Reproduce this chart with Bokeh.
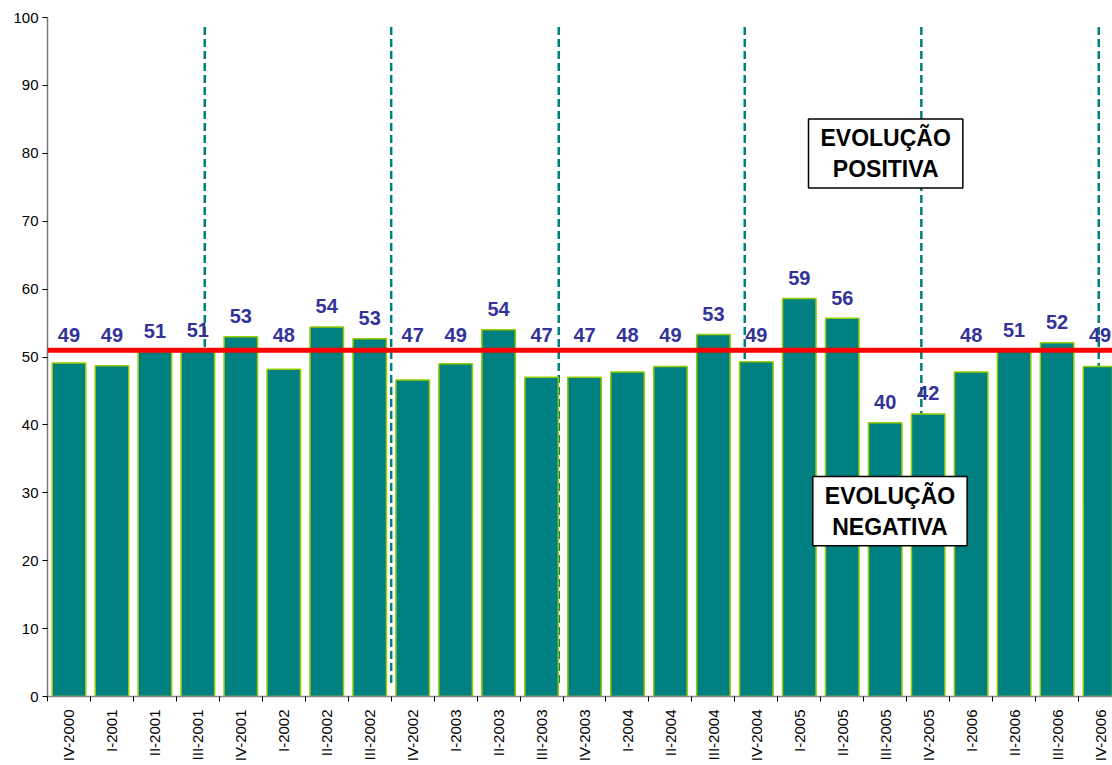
import math
import numpy as np
from bokeh.plotting import figure
from bokeh.models import (ColumnDataSource, Range1d, FixedTicker, Span, Label)
from bokeh.core.properties import value
from bokeh.embed import file_html
from bokeh.resources import INLINE

# ---- data ----
quarters = ["IV-2000", "I-2001", "II-2001", "III-2001", "IV-2001", "I-2002",
            "II-2002", "III-2002", "IV-2002", "I-2003", "II-2003", "III-2003",
            "IV-2003", "I-2004", "II-2004", "III-2004", "IV-2004", "I-2005",
            "II-2005", "III-2005", "IV-2005", "I-2006", "II-2006", "III-2006",
            "IV-2006"]
values = [49.1, 48.7, 50.8, 51.0, 53.0, 48.2, 54.4, 52.7, 46.6, 49.0, 54.0, 47.0,
          47.0, 47.8, 48.6, 53.3, 49.3, 58.6, 55.7, 40.3, 41.6, 47.8, 50.9, 52.1,
          48.6]
threshold = 51.0
year_marks = [3.66, 8.0, 11.9, 16.23, 20.34, 24.47]  # dashed separators (category units)
y_ticks = list(range(0, 101, 10))
text_pos = "EVOLUÇÃO\nPOSITIVA"
text_neg = "EVOLUÇÃO\nNEGATIVA"

FONT = "Liberation Sans"
TEAL = "#008080"

n = len(quarters)
centers = [i + 0.5 for i in range(n)]
bounds = list(range(n + 1))
vals = np.array(values)
label_y = np.where((vals >= 50.5) | (vals < 44), vals + 3.05, 53.3)
labels = ["%d" % int(round(v)) for v in values]

src = ColumnDataSource(dict(x=centers, top=values, ly=label_y, lab=labels))

p = figure(width=1112, height=765, output_backend="svg", toolbar_location=None,
           x_range=Range1d(0, 24.79), y_range=Range1d(0, 100),
           min_border_left=47, min_border_right=0, min_border_top=17,
           min_border_bottom=69)
p.outline_line_color = None
p.xgrid.visible = False
p.ygrid.visible = False
p.background_fill_color = "white"

# dashed separators (behind bars)
p.segment(x0=year_marks, x1=year_marks, y0=[2] * len(year_marks), y1=[99] * len(year_marks),
          line_color=TEAL, line_width=2.5, line_dash="8 4")

p.vbar(x="x", top="top", width=0.78, bottom=0, source=src,
       fill_color=TEAL, line_color="#99CC00", line_width=1.5)

p.add_layout(Span(location=threshold, dimension="width", line_color="#FF0000",
                  line_width=5))

p.text(x="x", y="ly", text="lab", source=src, text_align="center",
       text_baseline="middle", text_font=value(FONT), text_font_style="bold",
       text_font_size="20px", text_color="#333399")

for txt, cx, cy in [(text_pos, 19.51, 79.97), (text_neg, 19.61, 27.3)]:
    p.add_layout(Label(x=cx, y=cy, text=txt, text_align="center",
                       text_baseline="middle", text_font=FONT,
                       text_font_style="bold", text_font_size="23px",
                       text_color="black", text_line_height=1.2,
                       background_fill_color="white", background_fill_alpha=1.0,
                       border_line_color="black", border_line_width=1.5,
                       padding=dict(left=12, right=12, top=6, bottom=6)))

# axes
xa = p.xaxis[0]
xa.ticker = FixedTicker(ticks=centers, minor_ticks=bounds)
xa.major_label_overrides = {c: q for c, q in zip(centers, quarters)}
xa.major_tick_out = 0
xa.major_tick_in = 0
xa.minor_tick_out = 5
xa.minor_tick_in = 0
xa.minor_tick_line_color = "black"
xa.major_label_orientation = math.pi / 2
xa.major_label_standoff = 8
xa.major_label_text_font = FONT
xa.major_label_text_font_size = "15px"
xa.major_label_text_color = "black"
xa.axis_line_color = "#888888"
xa.axis_line_width = 1.5

ya = p.yaxis[0]
ya.ticker = FixedTicker(ticks=y_ticks, minor_ticks=[])
ya.major_tick_out = 5
ya.major_tick_in = 0
ya.major_tick_line_color = "black"
ya.major_label_standoff = 4
ya.major_label_text_font = FONT
ya.major_label_text_font_size = "15px"
ya.major_label_text_color = "black"
ya.axis_line_color = "#777777"
ya.axis_line_width = 1.5

open("out.html", "w").write(file_html(p, INLINE))
